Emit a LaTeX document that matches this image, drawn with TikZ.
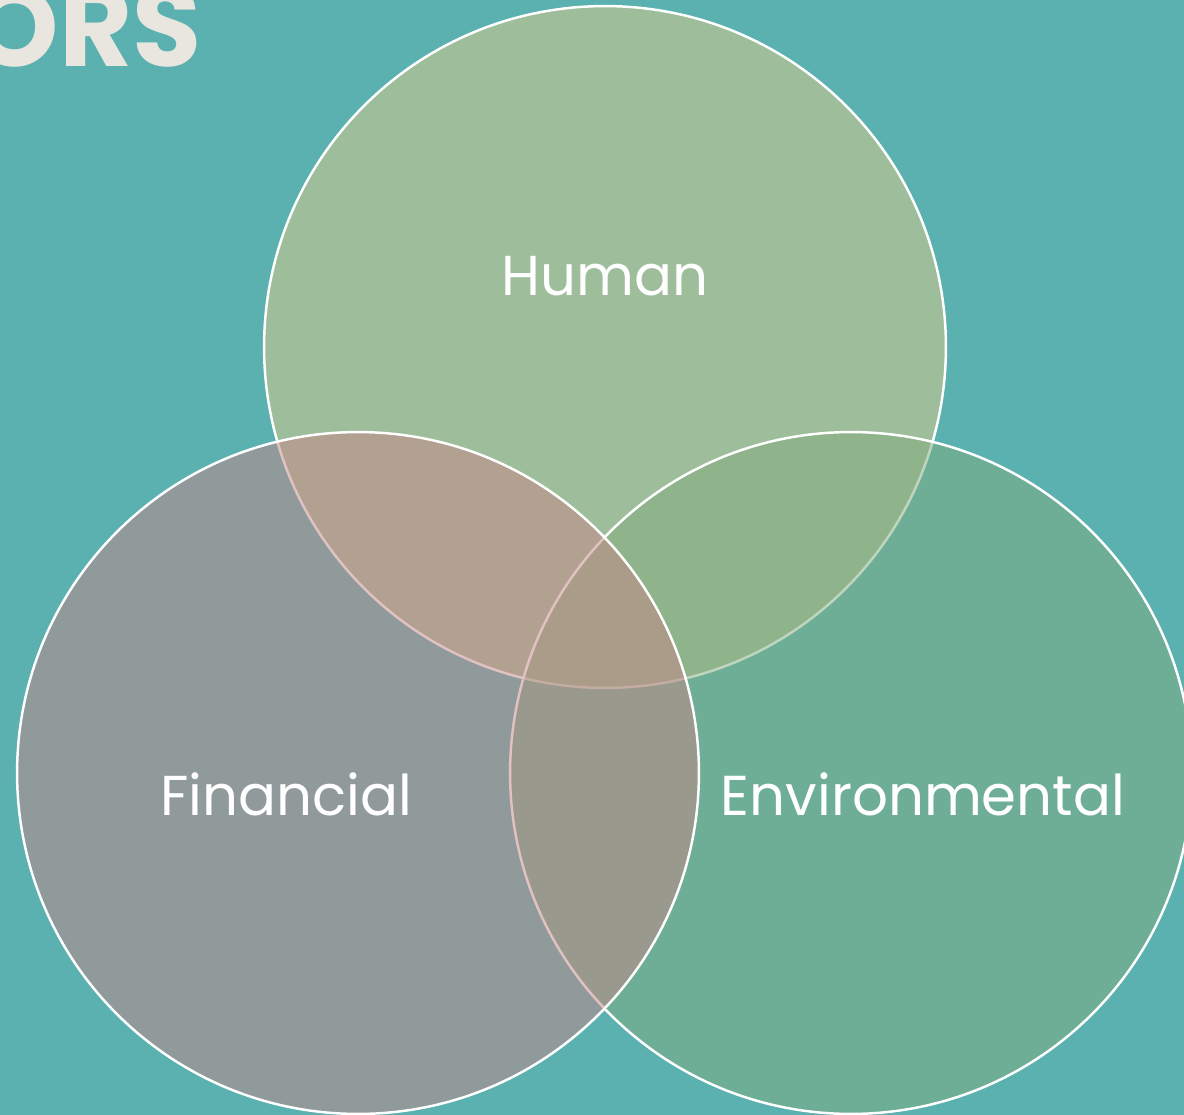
\documentclass[tikz,border=0pt]{standalone}
\usepackage{xcolor}
\usepackage{fontspec}
\usepackage{tikz}
\newfontfamily\vennfont{Poppins}
\definecolor{bgteal}{RGB}{90,177,176}
\definecolor{humanfill}{RGB}{226,201,136}
\definecolor{envfill}{RGB}{130,173,126}
\definecolor{finfill}{RGB}{198,133,134}
\definecolor{titlegray}{RGB}{232,230,222}
\tikzset{
  vennset/.style={circle, draw=white, line width=1.4pt, minimum size=13.64cm,
    fill opacity=0.5, draw opacity=1, inner sep=0pt},
  venntext/.style={text=white, anchor=base, inner sep=0pt,
    font=\vennfont\fontsize{32}{36}\selectfont}
}

\begin{document}
\begin{tikzpicture}[x=0.02cm,y=-0.02cm]
  \clip (0,0) rectangle (1184,1115);
  \fill[bgteal] (0,0) rectangle (1184,1115);
  % title, cut off at the edge
  \node[anchor=base east, inner sep=0pt, text=titlegray,
    font=\vennfont\bfseries\fontsize{64}{66}\selectfont] (title) at (202,67) {ORS};
  % the three sets
  \node[vennset, fill=humanfill] (human) at (605,347) {};
  \node[vennset, fill=envfill] (env) at (851,773) {};
  \node[vennset, fill=finfill] (fin) at (358,773) {};
  % labels
  \node[venntext] (humanlbl) at (605,295) {Human};
  \node[venntext] (finlbl) at (286,815) {Financial};
  \node[venntext] (envlbl) at (923,815) {Environmental};
\end{tikzpicture}
\end{document}
